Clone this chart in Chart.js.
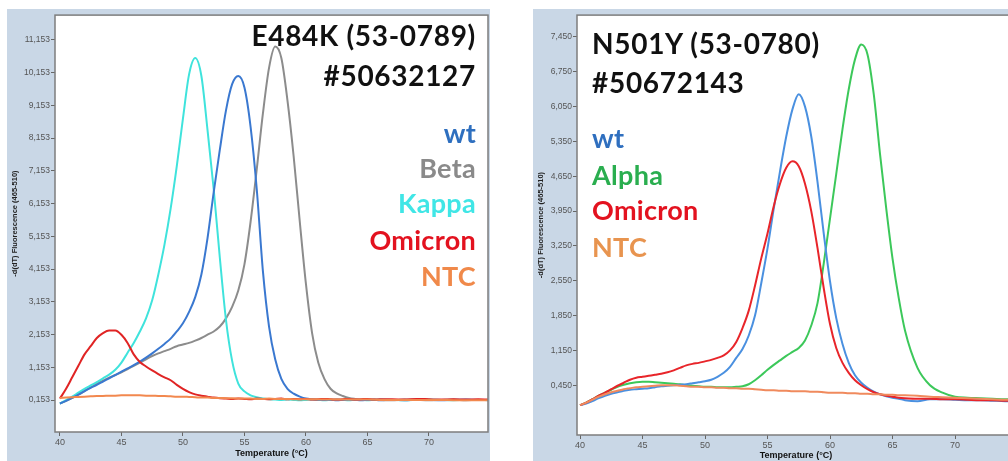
<!DOCTYPE html>
<html>
<head>
<meta charset="utf-8">
<script src="https://cdn.jsdelivr.net/npm/chart.js@4.4.0/dist/chart.umd.min.js"></script>
<style>
  html, body { margin: 0; padding: 0; background: #fff; overflow: hidden; }
  #tela { position: relative; width: 1008px; height: 461px; overflow: hidden; }
  canvas { position: absolute; background: #c9d7e6; }
  #graficoEsq { left: 7px; top: 9px; }
  #graficoDir { left: 533px; top: 9px; }
  .rotulo { position: absolute; font-family: Lato, "Open Sans", sans-serif; font-weight: bold;
            font-size: 27px; line-height: 27px; white-space: nowrap; letter-spacing: 0.3px; }
  .titulo { font-size: 28px; letter-spacing: 0.7px; }
  .esq { right: 532px; text-align: right; }
  .dir { left: 592px; }
</style>
</head>
<body>
<div id="tela">
  <canvas id="graficoEsq" width="483" height="452"></canvas>
  <canvas id="graficoDir" width="490" height="452"></canvas>

  <!-- textos do painel esquerdo -->
  <div class="rotulo titulo esq" style="top:22px;color:#111">E484K (53-0789)</div>
  <div class="rotulo titulo esq" style="top:62px;color:#111">#50632127</div>
  <div class="rotulo esq" style="top:119px;color:#2e6fbf">wt</div>
  <div class="rotulo esq" style="top:154px;color:#8a8a8a">Beta</div>
  <div class="rotulo esq" style="top:189px;color:#40e6e6">Kappa</div>
  <div class="rotulo esq" style="top:226px;color:#e3121f">Omicron</div>
  <div class="rotulo esq" style="top:262px;color:#f0894a">NTC</div>

  <!-- textos do painel direito -->
  <div class="rotulo titulo dir" style="top:30px;color:#111">N501Y (53-0780)</div>
  <div class="rotulo titulo dir" style="top:69px;color:#111">#50672143</div>
  <div class="rotulo dir" style="top:124px;color:#2f6fbf">wt</div>
  <div class="rotulo dir" style="top:161px;color:#2aae4f">Alpha</div>
  <div class="rotulo dir" style="top:196px;color:#e3121f">Omicron</div>
  <div class="rotulo dir" style="top:233px;color:#e8944f">NTC</div>
</div>

<script>
// TEMPERATURAS (eixo x, °C)
const temperaturas = [40,40.5,41,41.5,42,42.5,43,43.5,44,44.5,
  45,45.5,46,46.5,47,47.5,48,48.5,49,49.5,
  50,50.5,51,51.5,52,52.5,53,53.5,54,54.5,
  55,55.5,56,56.5,57,57.5,58,58.5,59,59.5,
  60,60.5,61,61.5,62,62.5,63,63.5,64,64.5,
  65,65.5,66,
  67,68,69,70,71,72,73,74,74.8];

const ticksX = [40, 45, 50, 55, 60, 65, 70];

// PAINEL ESQUERDO - E484K
const ticksYEsq = [0.153, 1.153, 2.153, 3.153, 4.153, 5.153, 6.153, 7.153, 8.153, 9.153, 10.153, 11.153];

const wtEsq = [0.05,0.13,0.22,0.32,0.43,0.53,0.62,0.72,0.82,0.92,
  1.02,1.12,1.22,1.33,1.45,1.58,1.72,1.87,2.03,2.25,
  2.5,2.85,3.3,3.99,5.1,6.5,7.8,9.0,9.8,10.05,
  9.7,8.5,6.6,4.1,2.4,1.4,0.8,0.5,0.35,0.26,
  0.2,0.18,0.17,0.16,0.17,0.15,0.16,0.17,0.16,0.15,
  0.16,0.17,0.15,
  0.16,0.15,0.17,0.16,0.15,0.16,0.17,0.16,0.16];

const betaEsq = [0.05,0.13,0.22,0.32,0.43,0.54,0.65,0.75,0.84,0.92,
  1.0,1.1,1.2,1.3,1.4,1.5,1.58,1.65,1.72,1.8,
  1.85,1.9,1.97,2.05,2.15,2.25,2.4,2.65,3.0,3.5,
  4.3,5.6,7.2,8.9,10.3,10.95,10.6,9.3,7.6,5.6,
  3.7,2.2,1.3,0.8,0.5,0.36,0.28,0.22,0.19,0.17,
  0.16,0.17,0.16,
  0.15,0.17,0.16,0.15,0.16,0.17,0.15,0.16,0.16];

const kappaEsq = [0.05,0.15,0.26,0.38,0.5,0.6,0.7,0.82,0.93,1.08,
  1.3,1.6,1.9,2.25,2.65,3.2,3.99,4.9,6.0,7.3,
  8.75,10.1,10.6,10.05,8.4,6.6,4.5,2.6,1.35,0.66,
  0.42,0.3,0.24,0.2,0.18,0.17,0.16,0.17,0.16,0.15,
  0.16,0.17,0.16,0.15,0.16,0.17,0.16,0.15,0.16,0.16,
  0.15,0.16,0.17,
  0.16,0.15,0.16,0.17,0.16,0.15,0.16,0.16,0.15];

const omicronEsq = [0.2,0.5,0.85,1.2,1.55,1.8,2.05,2.2,2.28,2.28,
  2.15,1.9,1.55,1.32,1.18,1.06,0.95,0.85,0.76,0.62,
  0.5,0.4,0.33,0.29,0.26,0.23,0.21,0.2,0.19,0.2,
  0.19,0.18,0.2,0.19,0.18,0.19,0.2,0.18,0.19,0.18,
  0.19,0.17,0.18,0.19,0.18,0.17,0.18,0.19,0.17,0.18,
  0.19,0.17,0.18,
  0.18,0.17,0.19,0.18,0.17,0.18,0.17,0.18,0.17];

const ntcEsq = [0.22,0.23,0.24,0.25,0.26,0.27,0.28,0.28,0.29,0.29,
  0.3,0.3,0.3,0.3,0.29,0.29,0.28,0.28,0.27,0.26,
  0.26,0.25,0.24,0.23,0.23,0.22,0.22,0.21,0.21,0.2,
  0.2,0.2,0.19,0.19,0.2,0.19,0.19,0.19,0.18,0.18,
  0.18,0.18,0.18,0.17,0.18,0.17,0.17,0.17,0.17,0.17,
  0.17,0.17,0.16,
  0.16,0.16,0.16,0.16,0.16,0.15,0.15,0.15,0.15];

// PAINEL DIREITO - N501Y
const ticksYDir = [0.45, 1.15, 1.85, 2.55, 3.25, 3.95, 4.65, 5.35, 6.05, 6.75, 7.45];

const wtDir = [0.05,0.08,0.13,0.19,0.24,0.28,0.31,0.34,0.36,0.37,
  0.38,0.39,0.41,0.43,0.44,0.45,0.46,0.47,0.49,0.51,
  0.53,0.56,0.62,0.7,0.82,1.0,1.18,1.45,1.85,2.5,
  3.2,4.0,4.75,5.45,6.0,6.3,6.05,5.45,4.54,3.5,
  2.54,1.8,1.28,0.9,0.65,0.5,0.4,0.32,0.27,0.23,
  0.2,0.18,0.15,
  0.13,0.17,0.17,0.16,0.15,0.15,0.14,0.13,0.13];

const alphaDir = [0.05,0.1,0.17,0.24,0.3,0.36,0.42,0.46,0.49,0.51,
  0.52,0.52,0.51,0.5,0.49,0.48,0.47,0.45,0.44,0.43,
  0.42,0.42,0.41,0.41,0.41,0.42,0.43,0.47,0.55,0.65,
  0.76,0.86,0.95,1.04,1.12,1.2,1.35,1.65,2.1,2.9,
  3.8,4.7,5.6,6.4,7.0,7.3,7.1,6.3,5.1,4.0,
  3.0,2.2,1.55,
  0.8,0.45,0.3,0.22,0.2,0.19,0.18,0.17,0.17];

const omicronDir = [0.05,0.1,0.17,0.24,0.3,0.37,0.44,0.5,0.56,0.6,
  0.62,0.64,0.66,0.68,0.71,0.75,0.8,0.85,0.88,0.9,
  0.93,0.96,1.0,1.05,1.15,1.32,1.6,1.95,2.45,3.0,
  3.5,4.05,4.5,4.82,4.95,4.85,4.5,3.95,3.21,2.4,
  1.68,1.2,0.9,0.7,0.55,0.45,0.37,0.31,0.27,0.24,
  0.22,0.2,0.19,
  0.18,0.18,0.17,0.17,0.16,0.15,0.15,0.14,0.14];

const ntcDir = [0.05,0.1,0.16,0.22,0.27,0.31,0.34,0.37,0.39,0.41,
  0.42,0.43,0.44,0.45,0.45,0.45,0.44,0.43,0.42,0.42,
  0.41,0.41,0.4,0.4,0.39,0.39,0.38,0.38,0.37,0.36,
  0.35,0.35,0.34,0.34,0.33,0.33,0.33,0.32,0.32,0.31,
  0.3,0.3,0.3,0.29,0.29,0.28,0.28,0.27,0.27,0.26,
  0.26,0.25,0.25,
  0.24,0.22,0.21,0.2,0.19,0.18,0.17,0.16,0.16];


// fundo branco da área do gráfico e moldura cinza
const moldura = {
  id: 'moldura',
  beforeDatasetsDraw (chart) {
    const { ctx, chartArea: a } = chart;
    ctx.save();
    ctx.fillStyle = '#ffffff';
    ctx.fillRect(a.left, a.top, a.right - a.left, a.bottom - a.top);
    ctx.restore();
  },
  afterDatasetsDraw (chart) {
    const { ctx, chartArea: a } = chart;
    ctx.save();
    ctx.strokeStyle = '#7d7d7d';
    ctx.lineWidth = 1.5;
    ctx.strokeRect(a.left, a.top, a.right - a.left, a.bottom - a.top);
    ctx.restore();
  }
};

function serie (valores, cor) {
  return {
    data: temperaturas.map((t, i) => ({ x: t, y: valores[i] })),
    borderColor: cor,
    borderWidth: 2,
    pointRadius: 0,
    cubicInterpolationMode: 'monotone',
    fill: false
  };
}

function formatarValor (v) {
  return v.toFixed(3).replace('.', ',');
}

// FUNÇÃO DE GERAR GRÁFICO
function gerandoGrafico (idGrafico, series, ticksY, faixa) {
  const config = {
    type: 'line',
    data: { datasets: series },
    options: {
      responsive: false,
      animation: false,
      layout: { padding: faixa.padding },
      plugins: { legend: { display: false }, tooltip: { enabled: false } },
      scales: {
        x: {
          type: 'linear',
          min: faixa.xMin,
          max: faixa.xMax,
          afterBuildTicks: eixo => { eixo.ticks = ticksX.map(v => ({ value: v })); },
          afterFit: eixo => { eixo.height = faixa.alturaX; },
          ticks: { color: '#555', font: { family: 'Liberation Sans', size: 9 }, padding: 1, maxRotation: 0 },
          grid: { drawOnChartArea: false, drawTicks: true, tickLength: 4, color: '#666' },
          border: { display: false },
          title: {
            display: true, text: 'Temperature (°C)', color: '#111',
            font: { family: 'Liberation Sans', size: 9, weight: 'bold' },
            padding: { top: 0, bottom: faixa.tituloX }
          }
        },
        y: {
          min: faixa.yMin,
          max: faixa.yMax,
          afterBuildTicks: eixo => { eixo.ticks = ticksY.map(v => ({ value: v })); },
          afterFit: eixo => { eixo.width = faixa.larguraY; },
          ticks: { color: '#555', font: { family: 'Liberation Sans', size: 8.5 }, padding: 1,
                   callback: v => formatarValor(v) },
          grid: { drawOnChartArea: false, drawTicks: true, tickLength: 4, color: '#666' },
          border: { display: false },
          title: {
            display: true, text: '-d(dT) Fluorescence (465-510)', color: '#222',
            font: { family: 'Liberation Sans', size: 7.5, weight: 'bold' },
            padding: 3
          }
        }
      }
    },
    plugins: [moldura]
  };

  return new Chart(document.getElementById(idGrafico), config);
}

// GRÁFICO 1 - E484K
gerandoGrafico('graficoEsq', [
  serie(ntcEsq, '#f2884e'),
  serie(omicronEsq, '#e02424'),
  serie(wtEsq, '#3a78d0'),
  serie(kappaEsq, '#3fe3dc'),
  serie(betaEsq, '#8c8c8c')
], ticksYEsq, {
  xMin: 39.6, xMax: 74.8, yMin: -0.82, yMax: 11.91,
  padding: { top: 3, right: 2, left: 0, bottom: 0 },
  larguraY: 48, alturaX: 29, tituloX: 2
});

// GRÁFICO 2 - N501Y
gerandoGrafico('graficoDir', [
  serie(ntcDir, '#f08a5d'),
  serie(omicronDir, '#e8252a'),
  serie(wtDir, '#4a90e0'),
  serie(alphaDir, '#3cc85a')
], ticksYDir, {
  xMin: 39.76, xMax: 74.8, yMin: -0.55, yMax: 7.89,
  padding: { top: 3, right: 8, left: 0, bottom: 0 },
  larguraY: 44, alturaX: 26, tituloX: 0
});
</script>
</body>
</html>
